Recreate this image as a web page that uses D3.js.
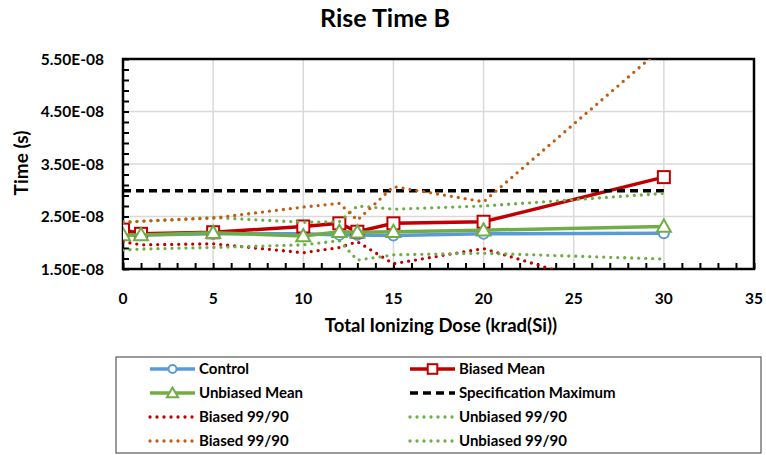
<!DOCTYPE html>
<html><head><meta charset="utf-8">
<script src="https://cdn.jsdelivr.net/npm/d3@7"></script>
<style>
body{margin:0;background:#fff;}
text{font-family:Lato,"Open Sans",sans-serif;font-weight:bold;fill:#000;}
</style></head>
<body><svg id="c" width="766" height="455"></svg>
<script>
// ---- data ----
const doses = [0, 1, 5, 10, 12, 13, 15, 20, 30];
const control = [2.15e-8, 2.15e-8, 2.17e-8, 2.17e-8, 2.15e-8, 2.15e-8, 2.14e-8, 2.17e-8, 2.18e-8];
const biasedMean = [2.25e-8, 2.17e-8, 2.20e-8, 2.31e-8, 2.37e-8, 2.21e-8, 2.37e-8, 2.40e-8, 3.25e-8];
const unbiasedMean = [2.15e-8, 2.15e-8, 2.19e-8, 2.13e-8, 2.21e-8, 2.20e-8, 2.21e-8, 2.24e-8, 2.31e-8];
const specMax = [2.99e-8, 2.99e-8, 2.99e-8, 2.99e-8, 2.99e-8, 2.99e-8, 2.99e-8, 2.99e-8, 2.99e-8];
const biased9990Low = [2.02e-8, 1.96e-8, 1.98e-8, 1.81e-8, 1.91e-8, 2.02e-8, 1.60e-8, 1.89e-8, 0.85e-8];
const biased9990High = [2.38e-8, 2.41e-8, 2.47e-8, 2.68e-8, 2.75e-8, 2.43e-8, 3.07e-8, 2.78e-8, 5.74e-8];
const unbiased9990High = [2.40e-8, 2.41e-8, 2.48e-8, 2.39e-8, 2.40e-8, 2.70e-8, 2.64e-8, 2.70e-8, 2.94e-8];
const unbiased9990Low = [1.86e-8, 1.88e-8, 1.91e-8, 1.96e-8, 2.04e-8, 1.67e-8, 1.77e-8, 1.80e-8, 1.69e-8];
const xTicks = [0, 5, 10, 15, 20, 25, 30, 35];
const yTicks = [1.5e-8, 2.5e-8, 3.5e-8, 4.5e-8, 5.5e-8];
const title = "Rise Time B";
const xTitle = "Total Ionizing Dose (krad(Si))";
const yTitle = "Time (s)";

// ---- layout ----
const svg = d3.select("#c");
const L = 123, R = 754, T = 59, B = 269;
const x = d3.scaleLinear().domain([0, 35]).range([L, R]);
const y = d3.scaleLinear().domain([1.5e-8, 5.5e-8]).range([B, T]);

svg.append("defs").append("clipPath").attr("id", "clip")
  .append("rect").attr("x", L).attr("y", T).attr("width", R - L).attr("height", B - T);

// gridlines
const g = svg.append("g");
g.selectAll(".hg").data(yTicks.slice(1, -1)).join("line")
  .attr("x1", L).attr("x2", R).attr("y1", d => y(d)).attr("y2", d => y(d))
  .attr("stroke", "#d9d9d9").attr("stroke-width", 1.5);
g.selectAll(".vg").data(xTicks.slice(1, -1)).join("line")
  .attr("y1", T).attr("y2", B).attr("x1", d => x(d)).attr("x2", d => x(d))
  .attr("stroke", "#d9d9d9").attr("stroke-width", 1.5);

// axes with inside ticks
const yAxis = d3.axisLeft(y).tickValues(d3.range(1.5e-8, 5.5e-8 + 1e-12, 0.2e-8))
  .tickSize(-6).tickFormat("");
svg.append("g").attr("transform", `translate(${L},0)`).call(yAxis)
  .call(a => a.selectAll("line").attr("stroke", "#000").attr("stroke-width", 2))
  .call(a => a.select(".domain").remove());
const xAxis = d3.axisBottom(x).tickValues(d3.range(0, 36, 1)).tickSize(-6).tickFormat("");
svg.append("g").attr("transform", `translate(0,${B})`).call(xAxis)
  .call(a => a.selectAll("line").attr("stroke", "#000").attr("stroke-width", 2))
  .call(a => a.select(".domain").remove());

// tick labels
svg.selectAll(".yl").data(yTicks).join("text")
  .attr("x", 104).attr("y", d => y(d)).attr("dy", "0.36em").attr("text-anchor", "end")
  .style("font-size", "15.5px").text(d => (d / 1e-8).toFixed(2) + "E-08");
svg.selectAll(".xl").data(xTicks).join("text")
  .attr("x", d => x(d)).attr("y", 304).attr("text-anchor", "middle")
  .style("font-size", "15.5px").text(d => d);

// plot border
svg.append("rect").attr("x", L).attr("y", T).attr("width", R - L).attr("height", B - T)
  .attr("fill", "none").attr("stroke", "#000").attr("stroke-width", 2.5);

// titles
svg.append("text").attr("x", 385).attr("y", 27).attr("text-anchor", "middle")
  .style("font-size", "25px").text(title);
svg.append("text").attr("x", 441).attr("y", 332).attr("text-anchor", "middle")
  .style("font-size", "18.5px").text(xTitle);
svg.append("text").attr("transform", "translate(28,163) rotate(-90)").attr("text-anchor", "middle")
  .style("font-size", "19px").text(yTitle);

// series
const line = vals => d3.line().x((d, i) => x(doses[i])).y(d => y(d))(vals);
const plot = svg.append("g").attr("clip-path", "url(#clip)");
const series = [
  {vals: control, color: "#5b9bd5", w: 3.5, dash: null, marker: "circle"},
  {vals: biasedMean, color: "#c00000", w: 3.5, dash: null, marker: "square"},
  {vals: unbiasedMean, color: "#70ad47", w: 3.5, dash: null, marker: "triangle"},
  {vals: specMax, color: "#000", w: 3.5, dash: "8 5", marker: null},
  {vals: biased9990Low, color: "#c00000", w: 3.3, dash: "0 7", marker: null, cap: "round"},
  {vals: unbiased9990High, color: "#70ad47", w: 3.3, dash: "0 7", marker: null, cap: "round"},
  {vals: biased9990High, color: "#c55a11", w: 3.3, dash: "0 7", marker: null, cap: "round"},
  {vals: unbiased9990Low, color: "#70ad47", w: 3.3, dash: "0 7", marker: null, cap: "round"}
];
function drawMarker(sel, type, cx, cy, color, s) {
  if (type === "circle") {
    sel.append("circle").attr("cx", cx).attr("cy", cy).attr("r", 5 * s)
      .attr("fill", "#fff").attr("stroke", color).attr("stroke-width", 2);
  } else if (type === "square") {
    sel.append("rect").attr("x", cx - 6 * s).attr("y", cy - 6 * s).attr("width", 12 * s).attr("height", 12 * s)
      .attr("fill", "#fff").attr("stroke", color).attr("stroke-width", 2);
  } else if (type === "triangle") {
    const h = 7 * s;
    sel.append("path").attr("d", `M${cx},${cy - h}L${cx + h},${cy + h * 0.75}L${cx - h},${cy + h * 0.75}Z`)
      .attr("fill", "#fff").attr("stroke", color).attr("stroke-width", 2);
  }
}
series.forEach(s => {
  plot.append("path").attr("d", line(s.vals)).attr("fill", "none")
    .attr("stroke", s.color).attr("stroke-width", s.w)
    .attr("stroke-dasharray", s.dash).attr("stroke-linecap", s.cap || "butt");
  if (s.marker) {
    const mg = plot.append("g");
    s.vals.forEach((v, i) => drawMarker(mg, s.marker, x(doses[i]), y(v), s.color, 1));
  }
});

// legend
const lg = svg.append("g");
lg.append("rect").attr("x", 116).attr("y", 357).attr("width", 645).attr("height", 96)
  .attr("fill", "#fff").attr("stroke", "#595959").attr("stroke-width", 1.2);
const legendItems = [
  {name: "Control", s: series[0], col: 0, row: 0},
  {name: "Biased Mean", s: series[1], col: 1, row: 0},
  {name: "Unbiased Mean", s: series[2], col: 0, row: 1},
  {name: "Specification Maximum", s: series[3], col: 1, row: 1},
  {name: "Biased 99/90", s: series[4], col: 0, row: 2},
  {name: "Unbiased 99/90", s: series[5], col: 1, row: 2},
  {name: "Biased 99/90", s: series[6], col: 0, row: 3},
  {name: "Unbiased 99/90", s: series[7], col: 1, row: 3}
];
const rowY = [369, 393, 417, 441];
const colX = [150, 410];
legendItems.forEach(it => {
  const x0 = colX[it.col], yy = rowY[it.row];
  lg.append("line").attr("x1", x0).attr("x2", x0 + 45).attr("y1", yy).attr("y2", yy)
    .attr("stroke", it.s.color).attr("stroke-width", it.s.w)
    .attr("stroke-dasharray", it.s.dash).attr("stroke-linecap", it.s.cap || "butt");
  if (it.s.marker) drawMarker(lg, it.s.marker, x0 + 22.5, yy, it.s.color, 0.8);
  lg.append("text").attr("x", x0 + 49).attr("y", yy).attr("dy", "0.36em")
    .style("font-size", "15px").text(it.name);
});
</script></body></html>
